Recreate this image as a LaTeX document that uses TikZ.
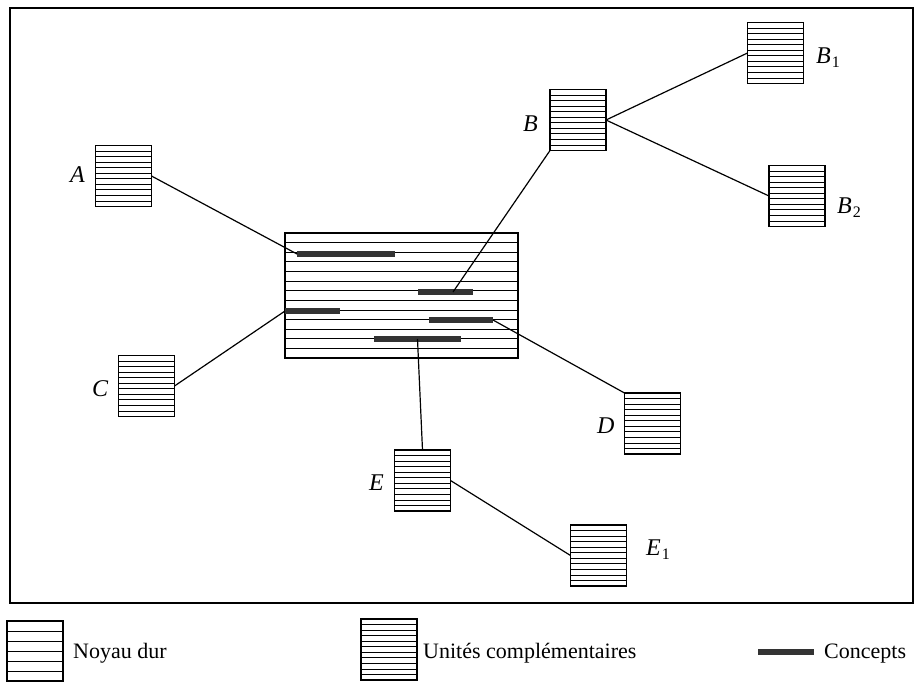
\documentclass[tikz,border=0pt]{standalone}
\usepackage{fontspec}
\setmainfont{Liberation Serif}
\usetikzlibrary{calc}
\newcommand{\subidx}[1]{\kern1pt\raisebox{-4pt}{\upshape\fontsize{16}{16}\selectfont #1}}
\tikzset{
  hatch/.style={draw, line width=1.4pt, inner sep=0pt, outer sep=0pt,
    path picture={
      \foreach \k in {1,...,#1}{
        \draw[line width=0.8pt]
          let \p1=(path picture bounding box.south west),
              \p2=(path picture bounding box.north east) in
          (\x1,{\y1+\k*(\y2-\y1)/(#1+1)}) -- (\x2,{\y1+\k*(\y2-\y1)/(#1+1)});
      }}},
  unitbox/.style={hatch=10, minimum width=56pt, minimum height=61pt},
  corebox/.style={hatch=12, minimum width=233pt, minimum height=125pt},
  concept/.style={fill=black!80, draw=none, inner sep=0pt, outer sep=0pt, minimum height=5.5pt},
  lbl/.style={anchor=base west, inner sep=0pt, font=\fontsize{24}{24}\selectfont\itshape},
  legtxt/.style={anchor=base west, inner sep=0pt, font=\fontsize{22}{22}\selectfont},
  link/.style={line width=1.2pt},
}
\begin{document}
\begin{tikzpicture}[x=1pt,y=-1pt]
\useasboundingbox (0,0) rectangle (914,681);
% frame
\draw[line width=2pt] (9.5,8) rectangle (912.5,603);
% core
\node[corebox] (core) at (401.5,295.5) {};
% concepts
\node[concept, minimum width=98pt] (c1) at (346,254) {};
\node[concept, minimum width=55pt] (c2) at (445.5,292) {};
\node[concept, minimum width=55pt] (c3) at (312.5,311) {};
\node[concept, minimum width=64pt] (c4) at (461,320) {};
\node[concept, minimum width=87pt] (c5) at (417.5,339) {};
% units
\node[unitbox] (A)  at (123.5,176) {};
\node[unitbox] (B)  at (578,120) {};
\node[unitbox] (B1) at (775.5,53) {};
\node[unitbox] (B2) at (797,196) {};
\node[unitbox] (C)  at (146.5,386) {};
\node[unitbox] (D)  at (652.5,423.5) {};
\node[unitbox] (E)  at (422.5,480.5) {};
\node[unitbox] (E1) at (598.5,555.5) {};
% labels
\node[lbl] (lA)  at (70,182) {A};
\node[lbl] (lB)  at (523,131) {B};
\node[lbl] (lB1) at (816,63) {B\subidx{1}};
\node[lbl] (lB2) at (837,213) {B\subidx{2}};
\node[lbl] (lC)  at (92,396) {C};
\node[lbl] (lD)  at (597,433) {D};
\node[lbl] (lE)  at (369,490) {E};
\node[lbl] (lE1) at (646,555) {E\subidx{1}};
% links
\draw[link] (A.east) -- (c1.west);
\draw[link] (B.south west) -- ([xshift=-20pt]c2.east);
\draw[link] (B.east) -- (B1.west);
\draw[link] (B.east) -- (B2.west);
\draw[link] (C.east) -- (c3.west);
\draw[link] (c4.east) -- (D.north west);
\draw[link] (c5.center) -- (E.north);
\draw[link] (E.east) -- (E1.west);
% legend
\node[hatch=5, minimum width=56pt, minimum height=60pt] (legcore) at (35,651) {};
\node[legtxt] (legcoretxt) at (73,658) {Noyau dur};
\node[unitbox] (legunit) at (389,649.5) {};
\node[legtxt] (legunittxt) at (423,658) {Unités complémentaires};
\node[concept, minimum width=56pt] (legconcept) at (786,652) {};
\node[legtxt] (legconcepttxt) at (824,658) {Concepts};
\end{tikzpicture}
\end{document}
